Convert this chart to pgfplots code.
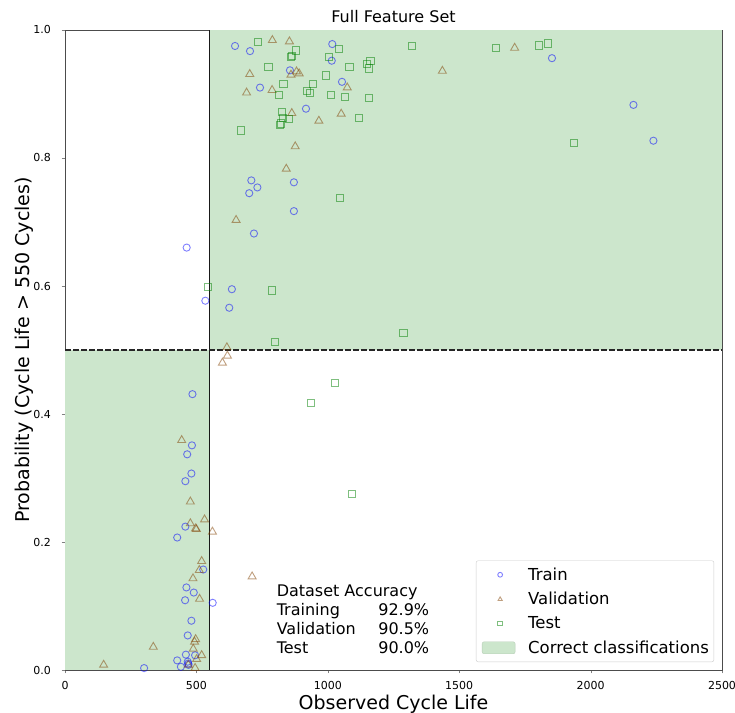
\documentclass[border=0pt]{standalone}
\usepackage{fontspec}
\setmainfont{DejaVu Sans}
\usepackage{pgfplots}
\pgfplotsset{compat=1.18}
\definecolor{trainc}{RGB}{0,0,255}
\definecolor{valc}{RGB}{128,64,0}
\definecolor{testc}{RGB}{0,128,0}
\definecolor{fillc}{RGB}{204,230,204}
\pgfplotsset{mylegmark/.style={legend image code/.code={\path[draw=none,fill=none] (0bp,0bp) -- (47bp,0bp); \draw[##1, mark size=2.4bp] plot coordinates {(21bp,0bp)};}},
  myfillleg/.style={legend image code/.code={\fill[fillc, draw=fillc!90!black] (3bp,-6bp) rectangle (36bp,6bp); \path[draw=none,fill=none] (0bp,0bp) -- (47bp,0bp);}}}
\begin{document}
\begin{tikzpicture}
\begin{axis}[
  name=ax,
  scale only axis, width=657bp, height=640bp,
  xmin=0, xmax=2500, ymin=0, ymax=1,
  xtick={0,500,1000,1500,2000,2500},
  ytick={0,0.2,0.4,0.6,0.8,1.0},
  /pgf/number format/assume math mode=true,
  xticklabel style={/pgf/number format/1000 sep={}, yshift=-4bp},
  yticklabel style={/pgf/number format/fixed, /pgf/number format/fixed zerofill, /pgf/number format/precision=1, xshift=-7bp},
  tick label style={font=\fontsize{11bp}{13bp}\selectfont},
  tick pos=left, tick align=outside, major tick length=3.5bp,
  axis line style={black!70, line width=0.8bp},
  title={Full Feature Set},
  title style={font=\fontsize{16bp}{19bp}\selectfont, at={(axis description cs:0.5,1)}, anchor=base, yshift=1.5bp},
  xlabel={Observed Cycle Life},
  ylabel={Probability (Cycle Life > 550 Cycles)},
  label style={font=\fontsize{19bp}{22bp}\selectfont},
  xlabel style={at={(axis description cs:0.5,0)}, anchor=base, yshift=-39bp},
  ylabel style={at={(axis description cs:-0.0548,0.5)}, anchor=base},
  legend style={at={(0.988,0.0125)}, anchor=south east,
    font=\fontsize{16.5bp}{19bp}\selectfont, draw=black!20, rounded corners=2bp,
    row sep=6.5bp, inner xsep=3bp, inner ysep=5bp},
  legend cell align=left,
]
\addplot[fill=fillc, draw=none, forget plot] coordinates {(550,0.5) (2500,0.5) (2500,1) (550,1)};
\addplot[fill=fillc, draw=none, forget plot] coordinates {(0,0) (550,0) (550,0.5) (0,0.5)};
\addplot[black!90, line width=1.8bp, forget plot] coordinates {(550,0) (550,1)};
\addplot[black!85, line width=1.6bp, dash pattern=on 5.5bp off 2.5bp, forget plot] coordinates {(0,0.5) (2500,0.5)};

\addplot[only marks, mark=o, mark size=3.6bp, draw=trainc, draw opacity=0.5, line width=0.9bp, mylegmark]
  table {
x y
647 0.975
704 0.967
1017 0.978
1015 0.952
856 0.937
742 0.910
1054 0.919
917 0.877
709 0.765
732 0.754
701 0.745
871 0.762
1853 0.956
2163 0.883
2239 0.827
871 0.717
719 0.682
463 0.660
635 0.595
534 0.577
625 0.566
485 0.431
483 0.351
465 0.337
481 0.307
458 0.295
458 0.224
427 0.207
526 0.157
462 0.129
490 0.121
457 0.109
562 0.105
481 0.077
467 0.054
460 0.024
495 0.023
427 0.015
469 0.010
441 0.005
301 0.003
470 0.008
467 0.013
};
\addlegendentry{Train}

\addplot[only marks, mark=triangle, mark size=4.6bp, draw=valc, draw opacity=0.5, line width=0.9bp, mylegmark]
  table {
x y
789 0.984
854 0.982
703 0.931
881 0.935
891 0.932
860 0.930
691 0.902
788 0.906
1074 0.910
863 0.870
966 0.858
1051 0.869
876 0.818
842 0.783
1711 0.972
1436 0.936
651 0.703
616 0.504
618 0.491
599 0.480
444 0.359
477 0.263
531 0.235
477 0.229
497 0.221
500 0.220
561 0.216
520 0.170
511 0.156
487 0.143
512 0.111
712 0.146
497 0.048
493 0.044
488 0.033
520 0.023
336 0.036
147 0.008
501 0.017
495 0.003
469 0.008
};
\addlegendentry{Validation}

\addplot[only marks, mark=square, mark size=3.6bp, draw=testc, draw opacity=0.5, line width=0.9bp, mylegmark]
  table {
x y
734 0.981
879 0.968
861 0.958
864 0.960
1041 0.970
1005 0.958
774 0.942
1082 0.942
1162 0.952
1148 0.947
1158 0.940
992 0.929
942 0.916
831 0.916
922 0.905
933 0.902
814 0.898
1012 0.899
1065 0.895
1158 0.894
827 0.872
851 0.861
830 0.863
818 0.852
822 0.854
1117 0.863
668 0.843
1047 0.738
1319 0.975
1641 0.972
1804 0.976
1839 0.979
1938 0.823
543 0.599
788 0.593
799 0.512
1028 0.448
1288 0.527
936 0.417
1092 0.275
};
\addlegendentry{Test}

\addlegendimage{myfillleg}
\addlegendentry{Correct classifications}

\node[anchor=north west, inner sep=0pt, align=left, font=\fontsize{16bp}{19.2bp}\selectfont]
  at (axis cs:805,0.134)
  {Dataset Accuracy\\
   \makebox[101.6bp][l]{Training}92.9\%\\
   \makebox[101.6bp][l]{Validation}90.5\%\\
   \makebox[101.6bp][l]{Test}90.0\%};
\end{axis}
\pgfresetboundingbox
\path[use as bounding box] ([xshift=-65bp,yshift=-43bp]ax.south west) rectangle ([xshift=13bp,yshift=30bp]ax.north east);
\end{tikzpicture}
\end{document}
